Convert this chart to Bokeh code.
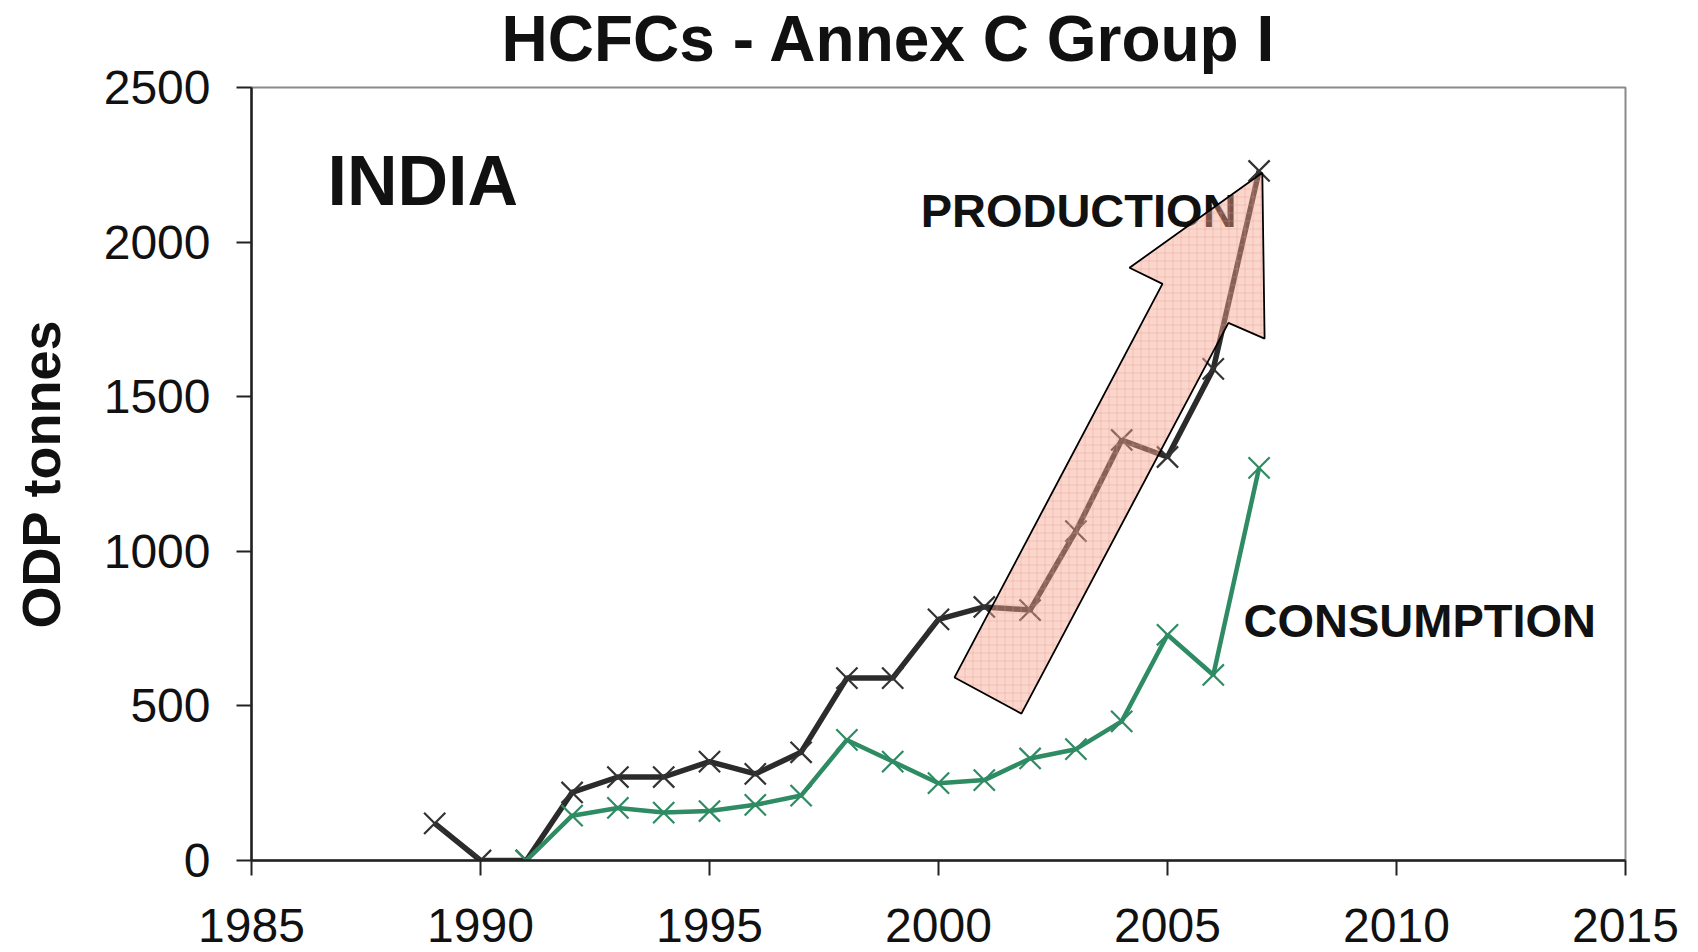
from bokeh.plotting import figure
from bokeh.models import Range1d, FixedTicker, Title
from bokeh.core.properties import value
from bokeh.embed import file_html
from bokeh.resources import INLINE

# ---- data ----
prod_years = [1989, 1990, 1991, 1992, 1993, 1994, 1995, 1996, 1997, 1998,
              1999, 2000, 2001, 2002, 2003, 2004, 2005, 2006, 2007]
production = [120, 0, 0, 220, 270, 270, 320, 280, 350, 590,
              590, 780, 820, 810, 1065, 1360, 1305, 1590, 2230]
cons_years = [1991, 1992, 1993, 1994, 1995, 1996, 1997, 1998, 1999,
              2000, 2001, 2002, 2003, 2004, 2005, 2006, 2007]
consumption = [0, 145, 170, 155, 160, 180, 210, 390, 320,
               250, 260, 330, 360, 450, 730, 600, 1270]
x_ticks = [1985, 1990, 1995, 2000, 2005, 2010, 2015]
y_ticks = [0, 500, 1000, 1500, 2000, 2500]

# annotation arrow outline (data coordinates)
arrow_x = [2000.35, 2001.81, 2006.33, 2007.12, 2007.07, 2004.17, 2004.89]
arrow_y = [592, 475, 1739, 1688, 2224, 1917, 1865]

FONT = "Liberation Sans"

p = figure(width=1696, height=950, output_backend="svg", toolbar_location=None,
           x_range=Range1d(1985, 2015), y_range=Range1d(0, 2500),
           min_border_left=251, min_border_right=71, min_border_top=87,
           min_border_bottom=90)
p.background_fill_color = "white"
p.border_fill_color = "white"
p.outline_line_color = "#8a8a8a"
p.outline_line_width = 2
p.xgrid.visible = False
p.ygrid.visible = False

# small blank spacer between frame and title, then the title itself
p.add_layout(Title(text=" ", text_font_size="8px", standoff=2), "above")
p.add_layout(Title(text="HCFCs - Annex C Group I", text_font=FONT,
                   text_font_style="bold", text_font_size="64px",
                   text_color="#111111", align="left", offset=250,
                   standoff=0), "above")

for ax, ticks in ((p.xaxis[0], x_ticks), (p.yaxis[0], y_ticks)):
    ax.ticker = FixedTicker(ticks=ticks)
    ax.minor_tick_line_color = None
    ax.major_tick_in = 0
    ax.major_tick_out = 15
    ax.major_tick_line_width = 2
    ax.major_tick_line_color = "#222222"
    ax.axis_line_width = 2.5
    ax.axis_line_color = "#222222"
    ax.major_label_text_font = FONT
    ax.major_label_text_font_size = "48px"
    ax.major_label_text_color = "#111111"

p.xaxis.major_label_standoff = 33
p.xaxis.major_label_text_line_height = 0.6
p.yaxis.major_label_standoff = 26
p.yaxis.axis_label = "ODP tonnes"
p.yaxis.axis_label_text_font = FONT
p.yaxis.axis_label_text_font_style = "bold"
p.yaxis.axis_label_text_font_size = "54px"
p.yaxis.axis_label_text_color = "#111111"
p.yaxis.axis_label_standoff = 30

# series
p.line(prod_years, production, line_color="#2b2b2b", line_width=5.5)
p.scatter(prod_years, production, marker="x", size=30, line_color="#333333", line_width=2.2)
p.line(cons_years, consumption, line_color="#2e8b63", line_width=4.5)
p.scatter(cons_years, consumption, marker="x", size=30, line_color="#2e8b63", line_width=2.2)

# in-plot texts
p.text(x=[1986.66], y=[2199], text=["INDIA"], text_font=value(FONT),
       text_font_style="bold", text_font_size="70px", text_color="#111111",
       text_baseline="alphabetic", text_align="left")
p.text(x=[1999.61], y=[2102], text=["PRODUCTION"], text_font=value(FONT),
       text_font_style="bold", text_font_size="47px", text_color="#111111",
       text_baseline="alphabetic", text_align="left")
p.text(x=[2006.66], y=[776], text=["CONSUMPTION"], text_font=value(FONT),
       text_font_style="bold", text_font_size="47px", text_color="#111111",
       text_baseline="alphabetic", text_align="left")

# arrow
p.patch(arrow_x, arrow_y, fill_color="#f4a690", fill_alpha=0.45,
        hatch_pattern="+", hatch_color="#f09080", hatch_alpha=0.35,
        hatch_scale=8, hatch_weight=1,
        line_color="black", line_width=1.8)

open("out.html", "w").write(file_html(p, INLINE))
